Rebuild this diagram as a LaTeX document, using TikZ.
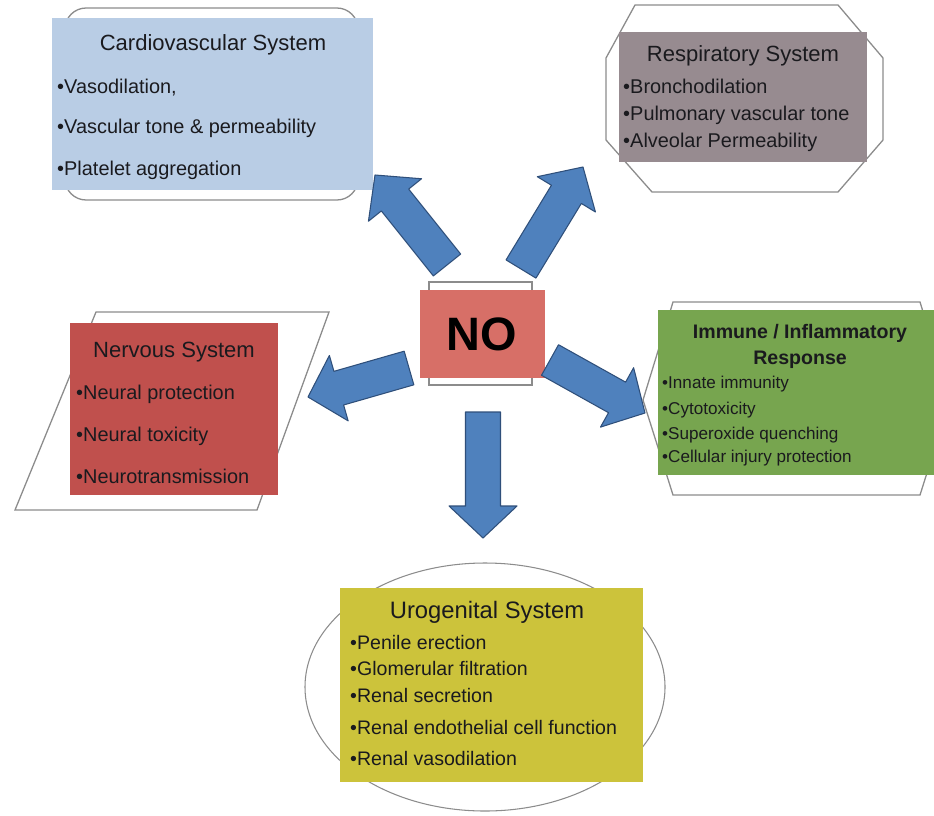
\documentclass[tikz,border=0pt]{standalone}
\usepackage{fontspec}
\setmainfont{Liberation Sans}
\usetikzlibrary{calc}

\definecolor{cvblue}{RGB}{185,205,229}
\definecolor{rsgrey}{RGB}{151,139,144}
\definecolor{nored}{RGB}{215,111,103}
\definecolor{nsred}{RGB}{192,80,77}
\definecolor{imgreen}{RGB}{119,165,79}
\definecolor{ugyellow}{RGB}{204,195,59}
\definecolor{arrowblue}{RGB}{79,129,189}
\definecolor{arrowline}{RGB}{47,79,122}
\definecolor{linegrey}{RGB}{140,140,140}
\definecolor{textdark}{RGB}{26,26,30}

% block arrow from tail (#1) to tip (#2)
\newcommand{\blockarrow}[2]{%
  \coordinate (neck) at ($(#2)!0.96cm!(#1)$);
  \filldraw[arrowbody]
    ($(#1)!0.525cm!90:(#2)$) -- ($(neck)!0.525cm!90:(#2)$) --
    ($(neck)!1.02cm!90:(#2)$) -- (#2) --
    ($(neck)!1.02cm!-90:(#2)$) -- ($(neck)!0.525cm!-90:(#2)$) --
    ($(#1)!0.525cm!-90:(#2)$) -- cycle;}

\begin{document}
\begin{tikzpicture}[x=0.03cm, y=-0.03cm,
    outline/.style={draw=linegrey, line width=1.1pt},
    arrowbody/.style={fill=arrowblue, draw=arrowline, line width=0.9pt, line join=round},
    title/.style={inner sep=0pt, text=textdark, font=\fontsize{18.8}{22}\selectfont},
    item/.style={anchor=west, inner sep=0pt, text=textdark, font=\fontsize{17}{20}\selectfont}]
  \clip (0,0) rectangle (934,815);
  \fill[white] (0,0) rectangle (934,815);

  % Cardiovascular System
  \draw[outline, rounded corners=18] (65,8) rectangle (358,200);
  \fill[cvblue] (52,18) rectangle (373,190);
  \node[title] (cv-title) at (213,45) {Cardiovascular System};
  \node[item] (cv-1) at (57,88) {•Vasodilation,};
  \node[item] (cv-2) at (57,128) {•Vascular tone \& permeability};
  \node[item] (cv-3) at (57,170) {•Platelet aggregation};

  % Respiratory System
  \draw[outline] (635,5) -- (838,5) -- (883,58) -- (883,140) -- (838,192)
    -- (652,192) -- (606,140) -- (606,58) -- cycle;
  \fill[rsgrey] (619,32) rectangle (867,162);
  \node[title] (rs-title) at (743,56) {Respiratory System};
  \node[item] (rs-1) at (623,86) {•Bronchodilation};
  \node[item] (rs-2) at (623,115) {•Pulmonary vascular tone};
  \node[item] (rs-3) at (623,142) {•Alveolar Permeability};

  % NO
  \draw[outline, line width=0.9pt] (429,282) rectangle (532,385);
  \fill[nored] (420,290) rectangle (545,378);
  \node[inner sep=0pt, font=\fontsize{40}{44}\bfseries] (no) at (482,334) {NO};

  % Nervous System
  \draw[outline] (96,312) -- (329,312) -- (257,510) -- (15,510) -- cycle;
  \fill[nsred] (70,323) rectangle (278,495);
  \node[title] (ns-title) at (174,352) {Nervous System};
  \node[item] (ns-1) at (76,394) {•Neural protection};
  \node[item] (ns-2) at (76,436) {•Neural toxicity};
  \node[item] (ns-3) at (76,476) {•Neurotransmission};

  % Immune / Inflammatory Response
  \draw[outline] (673,302) -- (920,302) -- (950,400) -- (920,495) -- (673,495)
    -- (643,400) -- cycle;
  \fill[imgreen] (658,310) rectangle (934,475);
  \node[title, font=\fontsize{16.7}{19}\bfseries] (im-title) at (800,333) {Immune / Inflammatory};
  \node[title, font=\fontsize{16.7}{19}\bfseries] (im-title2) at (800,360) {Response};
  \node[item, font=\fontsize{14.6}{17}\selectfont] (im-1) at (662,384) {•Innate immunity};
  \node[item, font=\fontsize{14.6}{17}\selectfont] (im-2) at (662,410) {•Cytotoxicity};
  \node[item, font=\fontsize{14.6}{17}\selectfont] (im-3) at (662,435) {•Superoxide quenching};
  \node[item, font=\fontsize{14.6}{17}\selectfont] (im-4) at (662,458) {•Cellular injury protection};

  % Urogenital System
  \draw[outline, line width=0.9pt] (485,687) ellipse [x radius=180, y radius=124];
  \fill[ugyellow] (340,588) rectangle (643,782);
  \node[title, font=\fontsize{20.3}{24}\selectfont] (ug-title) at (487,612) {Urogenital System};
  \node[item, font=\fontsize{16.7}{20}\selectfont] (ug-1) at (350,642) {•Penile erection};
  \node[item, font=\fontsize{16.7}{20}\selectfont] (ug-2) at (350,668) {•Glomerular filtration};
  \node[item, font=\fontsize{16.7}{20}\selectfont] (ug-3) at (350,695) {•Renal secretion};
  \node[item, font=\fontsize{16.7}{20}\selectfont] (ug-4) at (350,727) {•Renal endothelial cell function};
  \node[item, font=\fontsize{16.7}{20}\selectfont] (ug-5) at (350,758) {•Renal vasodilation};

  % Pfeile vom NO
  \coordinate (cv-tail) at (447,265); \coordinate (cv-tip) at (375,175);
  \coordinate (rs-tail) at (521,269); \coordinate (rs-tip) at (583,167);
  \coordinate (ns-tail) at (409,368); \coordinate (ns-tip) at (308,397);
  \coordinate (im-tail) at (550,360); \coordinate (im-tip) at (645,413);
  \coordinate (ug-tail) at (483,412); \coordinate (ug-tip) at (483,538);
  \foreach \sys in {cv, rs, ns, im, ug} {
    \blockarrow{\sys-tail}{\sys-tip}
  }
\end{tikzpicture}
\end{document}
